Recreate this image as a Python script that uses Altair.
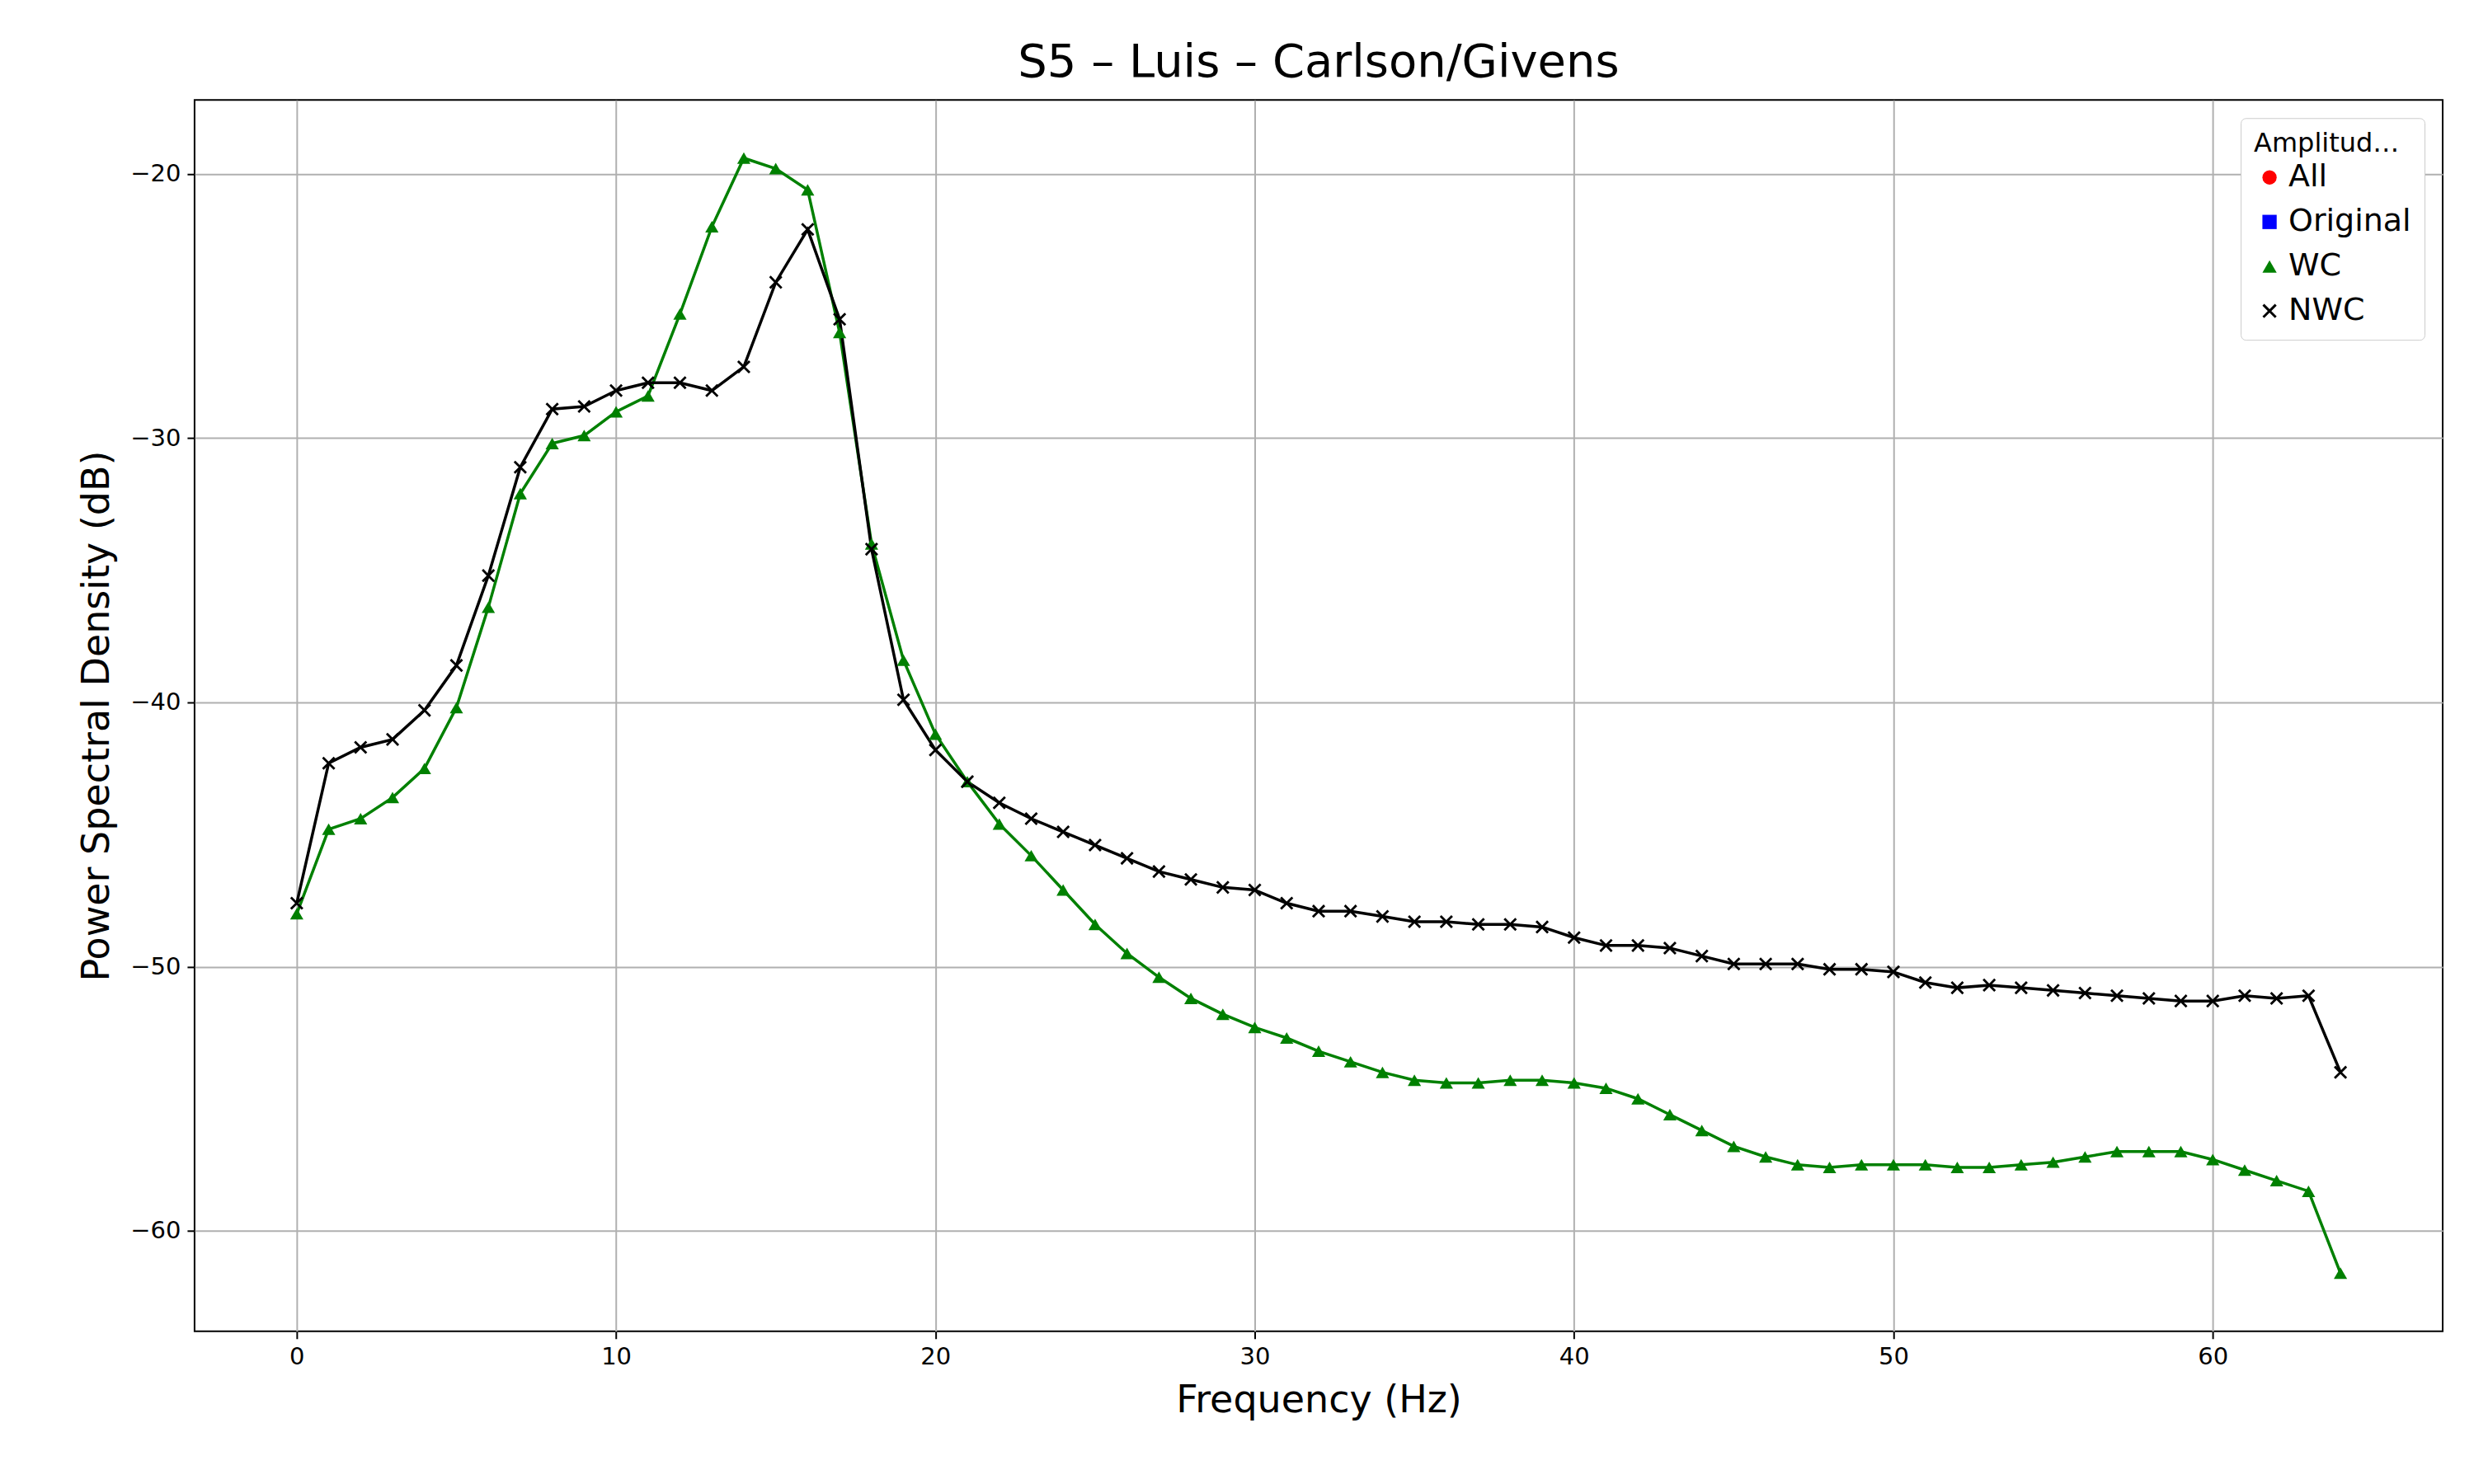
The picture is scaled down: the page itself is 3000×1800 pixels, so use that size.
import altair as alt
import pandas as pd

freq = list(range(65))
wc = [-48.0, -44.8, -44.4, -43.6, -42.5, -40.2, -36.4, -32.1, -30.2, -29.9,
      -29.0, -28.4, -25.3, -22.0, -19.4, -19.8, -20.6, -26.0, -34.0, -38.4,
      -41.2, -43.0, -44.6, -45.8, -47.1, -48.4, -49.5, -50.4, -51.2, -51.8,
      -52.3, -52.7, -53.2, -53.6, -54.0, -54.3, -54.4, -54.4, -54.3, -54.3,
      -54.4, -54.6, -55.0, -55.6, -56.2, -56.8, -57.2, -57.5, -57.6, -57.5,
      -57.5, -57.5, -57.6, -57.6, -57.5, -57.4, -57.2, -57.0, -57.0, -57.0,
      -57.3, -57.7, -58.1, -58.5, -61.6]
nwc = [-47.6, -42.3, -41.7, -41.4, -40.3, -38.6, -35.2, -31.1, -28.9, -28.8,
       -28.2, -27.9, -27.9, -28.2, -27.3, -24.1, -22.1, -25.5, -34.2, -39.9,
       -41.8, -43.0, -43.8, -44.4, -44.9, -45.4, -45.9, -46.4, -46.7, -47.0,
       -47.1, -47.6, -47.9, -47.9, -48.1, -48.3, -48.3, -48.4, -48.4, -48.5,
       -48.9, -49.2, -49.2, -49.3, -49.6, -49.9, -49.9, -49.9, -50.1, -50.1,
       -50.2, -50.6, -50.8, -50.7, -50.8, -50.9, -51.0, -51.1, -51.2, -51.3,
       -51.3, -51.1, -51.2, -51.1, -54.0]

series = ["All", "Original", "WC", "NWC"]
colors = ["red", "blue", "green", "black"]
X_SHAPE = ("M-1,-0.75L-0.75,-1L0,-0.25L0.75,-1L1,-0.75L0.25,0L1,0.75L0.75,1"
           "L0,0.25L-0.75,1L-1,0.75L-0.25,0Z")
shapes = ["circle", "square", "triangle-up", X_SHAPE]

df = pd.concat([
    pd.DataFrame({"freq": freq, "psd": wc, "type": "WC"}),
    pd.DataFrame({"freq": freq, "psd": nwc, "type": "NWC"}),
])

x = alt.X("freq:Q", title="Frequency (Hz)",
          scale=alt.Scale(domain=[-3.2, 67.2], nice=False, zero=False),
          axis=alt.Axis(values=[0, 10, 20, 30, 40, 50, 60]))
y = alt.Y("psd:Q", title="Power Spectral Density (dB)",
          scale=alt.Scale(domain=[-63.8, -17.2], nice=False, zero=False),
          axis=alt.Axis(values=[-60, -50, -40, -30, -20]))
color_scale = alt.Scale(domain=series, range=colors)
legend = alt.Legend(title="Amplitude Type")

lines = alt.Chart(df).mark_line(strokeWidth=3.5).encode(
    x=x, y=y,
    color=alt.Color("type:N", scale=color_scale, legend=legend),
)
points = alt.Chart(df).mark_point(filled=True, size=260, opacity=1).encode(
    x=x, y=y,
    color=alt.Color("type:N", scale=color_scale, legend=legend),
    shape=alt.Shape("type:N", scale=alt.Scale(domain=series, range=shapes),
                    legend=legend),
)

chart = (lines + points).properties(
    width=2727, height=1494,
    title=alt.Title("S5 – Luis – Carlson/Givens", fontSize=56, fontWeight="normal",
                    font="DejaVu Sans", offset=16),
    autosize=alt.AutoSizeParams(type="none"),
    padding={"left": 228, "top": 113, "right": 30, "bottom": 170},
).configure_view(stroke="black", strokeWidth=2).configure_axis(
    grid=True, gridColor="#b0b0b0", gridWidth=2, domain=False,
    tickColor="black", tickWidth=2, tickSize=9,
    labelFont="DejaVu Sans", labelFontSize=29, labelColor="black", labelPadding=8,
    titleFont="DejaVu Sans", titleFontSize=46, titleFontWeight="normal",
    titleColor="black", titlePadding=16,
).configure_legend(
    orient="top-right", offset=22, padding=16, strokeColor="#cccccc",
    fillColor="white", cornerRadius=6, titleFont="DejaVu Sans", titleFontSize=32,
    titleFontWeight="normal", titleColor="black", labelFont="DejaVu Sans",
    labelFontSize=38, labelColor="black", symbolSize=300, rowPadding=16,
    symbolStrokeWidth=0,
)

chart.save("out.html", embed_options={"renderer": "svg", "actions": False})
